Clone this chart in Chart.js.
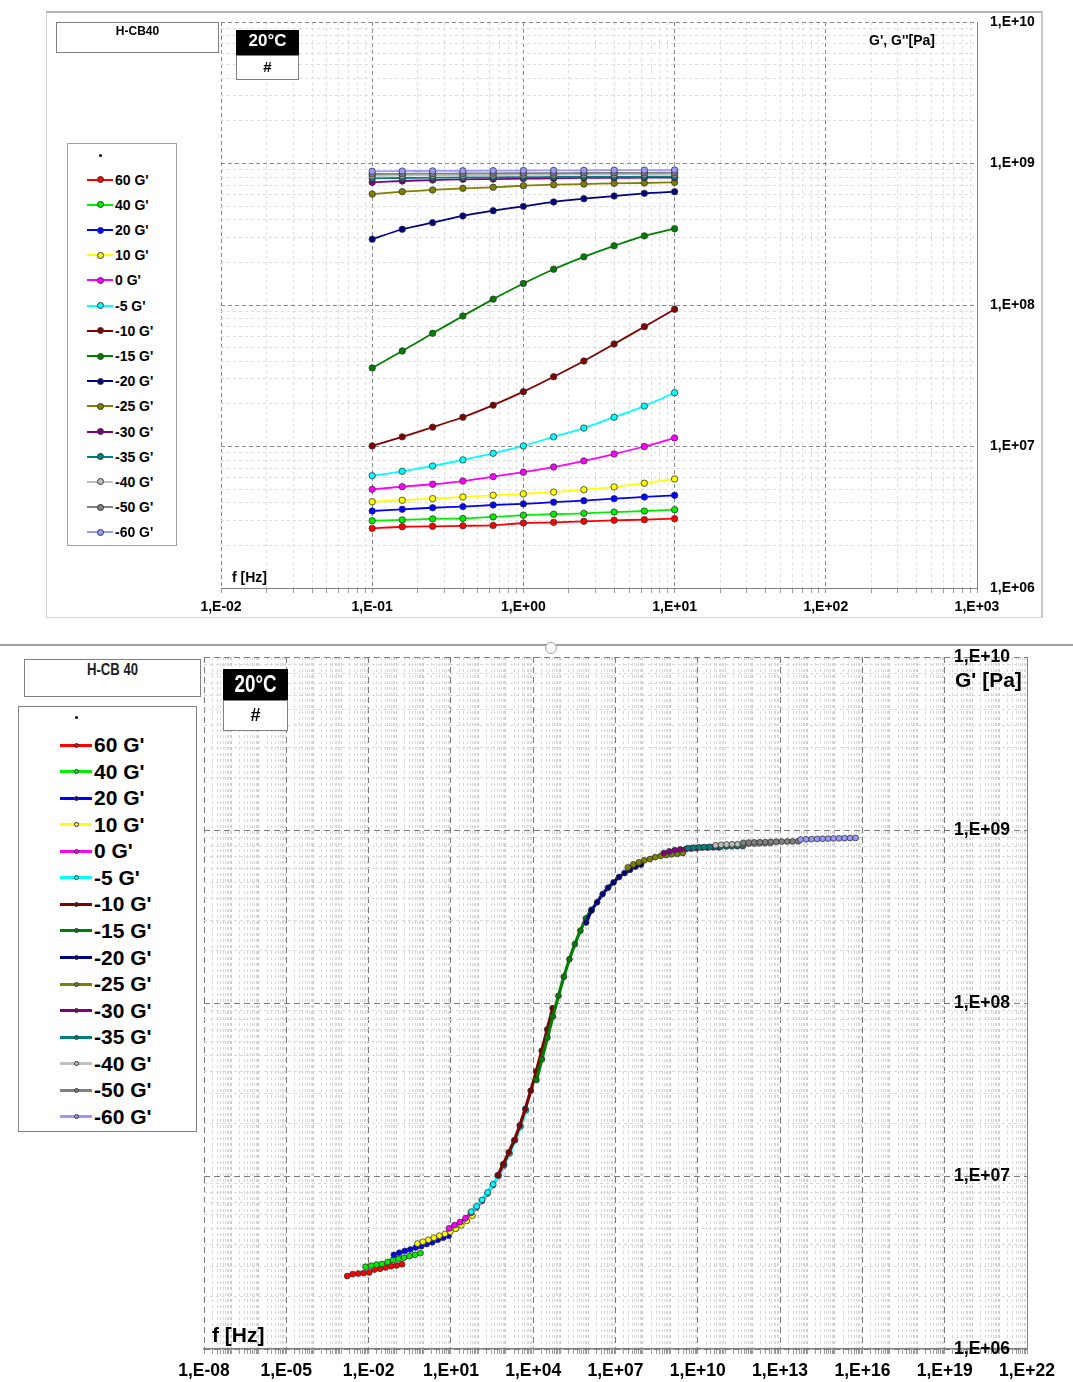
<!DOCTYPE html>
<html>
<head>
<meta charset="utf-8">
<script src="https://cdn.jsdelivr.net/npm/chart.js@4.4.0/dist/chart.umd.min.js"></script>
<style>
body { margin:0; background:#fff; width:1073px; height:1382px; position:relative; overflow:hidden; font-family:"Liberation Sans", Arial, sans-serif; }
canvas { position:absolute; left:0; }
#c1 { top:0; }
#c2 { top:640px; }
.box { position:absolute; background:#fff; border:1px solid #808080; box-sizing:border-box; }
.txt { position:absolute; white-space:nowrap; font-weight:bold; color:#000; }
.narrow { transform:scaleX(0.82); transform-origin:center; }
#frame1 { position:absolute; left:46px; top:11px; width:997px; height:607px; box-sizing:border-box; border:1px solid #d4d4d4; border-top:2px solid #b4b4b4; border-right:2px solid #c8c8c8; }
#sep { position:absolute; left:0; top:644px; width:1073px; height:2px; background:#a0a0a0; }
#knob { position:absolute; left:545px; top:642px; width:10px; height:10px; border:1.5px solid #a0a0a0; border-radius:50%; background:#fff; }
.leg { position:absolute; }
.leg .ln { position:absolute; }
.leg .mk { position:absolute; border-radius:50%; box-sizing:border-box; }
.leg .lb { position:absolute; white-space:nowrap; font-weight:bold; transform:translateY(-50%); }
</style>
</head>
<body>
<div id="frame1"></div>
<div id="sep"></div>
<div id="knob"></div>
<canvas id="c1" width="1073" height="630"></canvas>
<canvas id="c2" width="1073" height="742"></canvas>

<!-- oben -->
<div class="box" style="left:56px;top:22px;width:163px;height:31px;"></div>
<div class="txt" style="left:56px;top:24px;width:163px;text-align:center;font-size:12px;">H-CB40</div>
<div class="box" style="left:236px;top:30px;width:63px;height:26px;background:#000;border-color:#000;"></div>
<div class="txt" style="left:236px;top:31px;width:63px;text-align:center;font-size:17px;color:#fff;">20°C</div>
<div class="box" style="left:236px;top:55px;width:63px;height:25px;"></div>
<div class="txt" style="left:236px;top:58px;width:63px;text-align:center;font-size:15px;">#</div>
<div class="box" style="left:67px;top:143px;width:110px;height:403px;border-color:#a0a0a0;"></div>
<div class="txt" style="left:232px;top:569px;font-size:14px;">f [Hz]</div>
<div class="txt" style="left:869px;top:32px;font-size:14px;">G', G''[Pa]</div>
<div id="leg1" class="leg"></div>

<!-- unten -->
<div class="box" style="left:24px;top:659px;width:177px;height:38px;"></div>
<div class="txt narrow" style="left:24px;top:661px;width:177px;text-align:center;font-size:16px;color:#222;">H-CB 40</div>
<div class="box" style="left:223px;top:669px;width:65px;height:32px;background:#000;border-color:#000;"></div>
<div class="txt narrow" style="left:223px;top:671px;width:65px;text-align:center;font-size:23px;color:#fff;">20°C</div>
<div class="box" style="left:223px;top:700px;width:65px;height:31px;"></div>
<div class="txt" style="left:223px;top:705px;width:65px;text-align:center;font-size:18px;">#</div>
<div class="box" style="left:18px;top:706px;width:179px;height:426px;"></div>
<div class="txt" style="left:212px;top:1323px;font-size:21px;">f [Hz]</div>
<div class="txt" style="left:955px;top:668px;font-size:21px;">G' [Pa]</div>
<div id="leg2" class="leg"></div>

<script>
// Frequenzen der Messung (Hz)
const FREQ_HZ = [0.1, 0.158, 0.251, 0.398, 0.631, 1, 1.585, 2.512, 3.981, 6.31, 10];

const SERIES_NAMES = ["60 G'", "40 G'", "20 G'", "10 G'", "0 G'", "-5 G'", "-10 G'", "-15 G'",
	"-20 G'", "-25 G'", "-30 G'", "-35 G'", "-40 G'", "-50 G'", "-60 G'"];
const SERIES_COLORS = ['#ff0000', '#00ee00', '#0000ff', '#ffff00', '#ff00ff', '#00ffff', '#800000', '#008000',
	'#000080', '#808000', '#800080', '#008080', '#c0c0c0', '#808080', '#9999ff'];

// G' (Pa) je Temperatur
const G_60 = [2.64e6, 2.71e6, 2.73e6, 2.75e6, 2.77e6, 2.88e6, 2.91e6, 2.96e6, 3.01e6, 3.04e6, 3.09e6];
const G_40 = [2.99e6, 3.03e6, 3.08e6, 3.10e6, 3.18e6, 3.27e6, 3.32e6, 3.37e6, 3.44e6, 3.50e6, 3.58e6];
const G_20 = [3.50e6, 3.60e6, 3.69e6, 3.76e6, 3.86e6, 3.93e6, 4.04e6, 4.14e6, 4.28e6, 4.40e6, 4.52e6];
const G_10 = [4.07e6, 4.17e6, 4.28e6, 4.40e6, 4.52e6, 4.63e6, 4.76e6, 4.95e6, 5.18e6, 5.50e6, 5.89e6];
const G_0 = [4.98e6, 5.20e6, 5.41e6, 5.70e6, 6.12e6, 6.58e6, 7.16e6, 7.91e6, 8.85e6, 1.00e7, 1.15e7];
const G_M5 = [6.22e6, 6.68e6, 7.28e6, 8.04e6, 8.95e6, 1.01e7, 1.17e7, 1.35e7, 1.61e7, 1.93e7, 2.40e7];
const G_M10 = [1.01e7, 1.17e7, 1.37e7, 1.61e7, 1.96e7, 2.44e7, 3.11e7, 4.02e7, 5.30e7, 7.03e7, 9.33e7];
const G_M15 = [3.59e7, 4.73e7, 6.31e7, 8.36e7, 1.10e8, 1.42e8, 1.79e8, 2.19e8, 2.62e8, 3.08e8, 3.46e8];
const G_M20 = [2.92e8, 3.43e8, 3.82e8, 4.26e8, 4.64e8, 4.98e8, 5.35e8, 5.64e8, 5.89e8, 6.15e8, 6.32e8];
const G_M25 = [6.08e8, 6.32e8, 6.50e8, 6.68e8, 6.79e8, 6.97e8, 7.08e8, 7.16e8, 7.24e8, 7.28e8, 7.36e8];
const G_M30 = [7.36e8, 7.52e8, 7.64e8, 7.73e8, 7.76e8, 7.82e8, 7.85e8, 7.91e8, 7.91e8, 7.94e8, 7.94e8];
const G_M35 = [7.85e8, 7.90e8, 7.94e8, 7.97e8, 7.99e8, 8.01e8, 8.03e8, 8.04e8, 8.05e8, 8.06e8, 8.07e8];
const G_M40 = [8.17e8, 8.21e8, 8.25e8, 8.27e8, 8.29e8, 8.31e8, 8.33e8, 8.35e8, 8.36e8, 8.38e8, 8.40e8];
const G_M50 = [8.43e8, 8.46e8, 8.48e8, 8.50e8, 8.52e8, 8.54e8, 8.55e8, 8.57e8, 8.58e8, 8.59e8, 8.61e8];
const G_M60 = [8.81e8, 8.84e8, 8.86e8, 8.88e8, 8.90e8, 8.92e8, 8.94e8, 8.95e8, 8.97e8, 8.98e8, 9.00e8];

const G_ALL = [G_60, G_40, G_20, G_10, G_0, G_M5, G_M10, G_M15, G_M20, G_M25, G_M30, G_M35, G_M40, G_M50, G_M60];

// Verschiebungsfaktoren log10(aT) fuer die Masterkurve (Tref = 20 °C)
const LOG_AT = [-1.78, -1.11, -0.08, 0.78, 1.93, 2.74, 3.71, 5.12, 6.93, 8.45, 9.76, 10.64, 11.65, 12.66, 14.75];

const FONT = "'Liberation Sans', Arial, sans-serif";

function isDecade(v) {
	let e = Math.round(Math.log10(v));
	return Math.abs(v / Math.pow(10, e) - 1) < 1e-6;
}
function expLabel(v) {
	let e = Math.round(Math.log10(v));
	return '1,E' + (e < 0 ? '-' : '+') + String(Math.abs(e)).padStart(2, '0');
}
// Ticks 1..9 x 10^e fuer jede Dekade
function logTicks(lo, hi) {
	let out = [];
	for (let e = lo; e < hi; e++) {
		for (let m = 1; m < 10; m++) out.push({ value: m * Math.pow(10, e) });
	}
	out.push({ value: Math.pow(10, hi) });
	return out;
}

function makeDatasets(shifted, lineW, radius) {
	return G_ALL.map(function(arr, i) {
		let fac = shifted ? Math.pow(10, LOG_AT[i]) : 1;
		return {
			label: SERIES_NAMES[i],
			data: FREQ_HZ.map(function(f, k) { return { x: f * fac, y: arr[k] }; }),
			borderColor: SERIES_COLORS[i],
			backgroundColor: SERIES_COLORS[i],
			pointBackgroundColor: SERIES_COLORS[i],
			pointBorderColor: '#333',
			pointBorderWidth: 0.8,
			pointRadius: radius,
			borderWidth: lineW,
			tension: 0.2,
			order: 15 - i
		};
	});
}

// oberes Diagramm: G' ueber f
let ctx1 = document.getElementById('c1').getContext('2d');
let chart1 = new Chart(ctx1, {
	type: 'line',
	data: { datasets: makeDatasets(false, 1.8, 3.2) },
	options: {
		responsive: false,
		animation: false,
		layout: { padding: { left: 221, top: 22, right: 0, bottom: 0 } },
		plugins: { legend: { display: false }, tooltip: { enabled: false } },
		scales: {
			x: {
				type: 'logarithmic', position: 'bottom', min: 1e-2, max: 1e3,
				afterBuildTicks: function(s) { s.ticks = logTicks(-2, 3); },
				afterFit: function(s) { s.height = 42; },
				ticks: {
					autoSkip: false, maxRotation: 0, minRotation: 0, padding: 6, color: '#000',
					font: { family: FONT, size: 14, weight: 'bold' },
					callback: function(v) { return isDecade(v) ? expLabel(v) : ''; }
				},
				grid: {
					color: function(c) { return c.tick && isDecade(c.tick.value) ? '#8a8a8a' : '#dedede'; },
					tickLength: 5, tickColor: '#999'
				},
				border: { display: true, color: '#808080', width: 1,
					dash: function(c) { return c.tick && isDecade(c.tick.value) ? [4, 3] : [3, 3]; } }
			},
			y: {
				type: 'logarithmic', position: 'right', min: 1e6, max: 1e10,
				afterBuildTicks: function(s) { s.ticks = logTicks(6, 10); },
				afterFit: function(s) { s.width = 96; },
				ticks: {
					autoSkip: false, padding: 13, color: '#000',
					font: { family: FONT, size: 14, weight: 'bold' },
					callback: function(v) { return isDecade(v) ? expLabel(v) : ''; }
				},
				grid: {
					color: function(c) { return c.tick && isDecade(c.tick.value) ? '#8a8a8a' : '#dedede'; },
					drawTicks: false
				},
				border: { display: true, color: '#808080', width: 1,
					dash: function(c) { return c.tick && isDecade(c.tick.value) ? [4, 3] : [3, 3]; } }
			}
		}
	}
});

// unteres Diagramm: Masterkurve
function majorX(v) {
	if (!isDecade(v)) return false;
	let e = Math.round(Math.log10(v));
	return (e + 8) % 3 === 0;
}
let ctx2 = document.getElementById('c2').getContext('2d');
let chart2 = new Chart(ctx2, {
	type: 'line',
	data: { datasets: makeDatasets(true, 3.2, 2.9) },
	options: {
		responsive: false,
		animation: false,
		layout: { padding: { left: 204, top: 17, right: 0, bottom: 0 } },
		plugins: { legend: { display: false }, tooltip: { enabled: false } },
		scales: {
			x: {
				type: 'logarithmic', position: 'bottom', min: 1e-8, max: 1e22,
				afterBuildTicks: function(s) { s.ticks = logTicks(-8, 22); },
				afterFit: function(s) { s.height = 33; },
				ticks: {
					autoSkip: false, maxRotation: 0, minRotation: 0, padding: 7, color: '#000',
					font: { family: FONT, size: 17.5, weight: 'bold' },
					callback: function(v) { return majorX(v) ? expLabel(v) : ''; }
				},
				grid: {
					color: function(c) {
						if (!c.tick) return '#ddd';
						if (majorX(c.tick.value)) return '#7a7a7a';
						return isDecade(c.tick.value) ? '#c8c8c8' : '#d8d8d8';
					},
					tickLength: 5, tickColor: '#999'
				},
				border: { display: true, color: '#808080', width: 1.5,
					dash: function(c) { return c.tick && majorX(c.tick.value) ? [6, 4] : [3, 3]; } }
			},
			y: {
				type: 'logarithmic', position: 'right', min: 1e6, max: 1e10,
				afterBuildTicks: function(s) { s.ticks = logTicks(6, 10); },
				afterFit: function(s) { s.width = 46; },
				ticks: {
					autoSkip: false, mirror: true, padding: -17, color: '#000',
					font: { family: FONT, size: 17.5, weight: 'bold' },
					callback: function(v) { return isDecade(v) ? expLabel(v) : ''; }
				},
				grid: {
					color: function(c) { return c.tick && isDecade(c.tick.value) ? '#7a7a7a' : '#d8d8d8'; },
					drawTicks: false
				},
				border: { display: true, color: '#808080', width: 1,
					dash: function(c) { return c.tick && isDecade(c.tick.value) ? [6, 4] : [3, 3]; } }
			}
		}
	}
});

// Legenden (HTML)
function buildLegend(id, o) {
	let el = document.getElementById(id);
	let html = '<div class="mk" style="left:' + (o.mx - 1.5) + 'px;top:' + (o.dotY - 1.5) + 'px;width:3px;height:3px;background:#000;"></div>';
	for (let i = 0; i < SERIES_NAMES.length; i++) {
		let y = o.y0 + i * o.dy;
		html += '<div class="ln" style="left:' + o.lx0 + 'px;top:' + (y - o.lw / 2) + 'px;width:' + (o.lx1 - o.lx0) +
			'px;height:' + o.lw + 'px;background:' + SERIES_COLORS[i] + ';"></div>';
		html += '<div class="mk" style="left:' + (o.mx - o.mr) + 'px;top:' + (y - o.mr) + 'px;width:' + (2 * o.mr) +
			'px;height:' + (2 * o.mr) + 'px;background:' + SERIES_COLORS[i] + ';border:1px solid #333;"></div>';
		html += '<div class="lb" style="left:' + o.tx + 'px;top:' + y + 'px;font-size:' + o.fs + 'px;">' + SERIES_NAMES[i] + '</div>';
	}
	el.innerHTML = html;
}
buildLegend('leg1', { y0: 179.7, dy: 25.19, dotY: 155, lx0: 87, lx1: 113, lw: 2, mx: 100, mr: 3.5, tx: 115, fs: 14 });
buildLegend('leg2', { y0: 745, dy: 26.57, dotY: 717, lx0: 60, lx1: 92, lw: 3, mx: 76, mr: 2.5, tx: 94, fs: 21 });
</script>
</body>
</html>
